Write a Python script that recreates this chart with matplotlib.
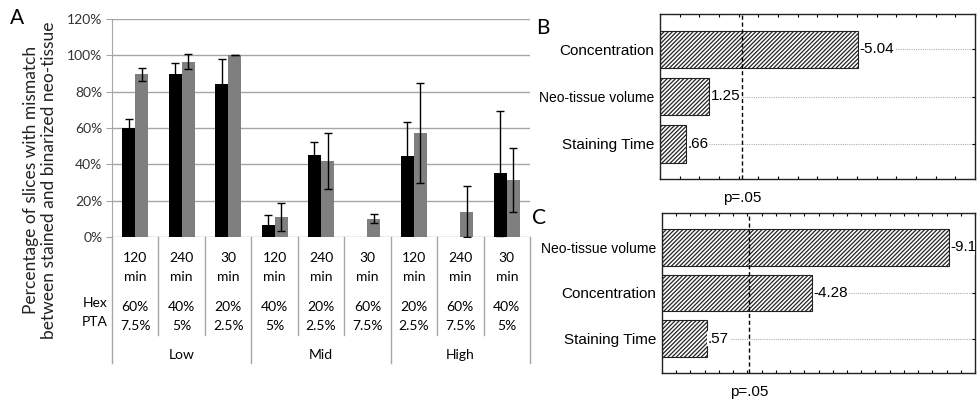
import matplotlib
matplotlib.use('Agg')
import matplotlib.pyplot as plt
import matplotlib.transforms as mtransforms
import numpy as np

# Panel A data (percent)
times = ['120', '240', '30', '120', '240', '30', '120', '240', '30']
hex_conc = ['60%', '40%', '20%', '40%', '20%', '60%', '20%', '60%', '40%']
pta_conc = ['7.5%', '5%', '2.5%', '5%', '2.5%', '7.5%', '2.5%', '7.5%', '5%']
groups = ['Low', 'Mid', 'High']
black_vals = [60, 90, 84, 6.5, 45, 0, 44.5, 0, 35]
black_err = [5, 6, 14, 5.5, 7.5, 0, 19, 0, 34.5]
gray_vals = [89.5, 96.5, 100, 11, 42, 10, 57.5, 14, 31.5]
gray_err = [3.5, 4.2, 0, 7.5, 15.5, 2.5, 27.5, 14, 17.5]

# Panels B and C: standardized effects
factors_b = ['Concentration', 'Neo-tissue volume', 'Staining Time']
effects_b = [-5.04, 1.25, 0.66]
factors_c = ['Neo-tissue volume', 'Concentration', 'Staining Time']
effects_c = [-9.1, -4.28, 0.57]
p05_b = 2.08
p05_c = 2.05

fig = plt.figure(figsize=(9.78, 4.0), dpi=100)
calibri = ['Lato', 'DejaVu Sans']
arial = ['Liberation Sans', 'DejaVu Sans']
plt.rcParams['hatch.linewidth'] = 0.9

# ---------------- Panel A ----------------
ax = fig.add_axes([112 / 978, 1 - 237 / 400, (530 - 112) / 978, 218 / 400])
x = np.arange(len(times))
w = 0.28
ax.bar(x - w / 2, black_vals, w, color='black', zorder=3)
ax.bar(x + w / 2, gray_vals, w, color='#7f7f7f', zorder=3)
for xs, vals, errs in [(x - w / 2, black_vals, black_err), (x + w / 2, gray_vals, gray_err)]:
    keep = [i for i in range(len(vals)) if vals[i] > 0]
    ax.errorbar(xs[keep], np.array(vals)[keep], yerr=np.array(errs)[keep], fmt='none',
                ecolor='black', elinewidth=1, capsize=3, capthick=1, zorder=4)
ax.set_xlim(-0.5, len(times) - 0.5)
ax.set_ylim(0, 120)
ax.set_yticks(range(0, 121, 20))
ax.set_yticklabels([f'{v}%' for v in range(0, 121, 20)], family=calibri, fontsize=10, color='#333333')
ax.yaxis.grid(True, color='#a6a6a6', lw=1)
ax.set_axisbelow(True)
for s in ['top', 'right', 'bottom']:
    ax.spines[s].set_visible(False)
ax.spines['left'].set_color('#a6a6a6')
ax.tick_params(axis='y', color='#a6a6a6', length=4, pad=3)
ax.set_xticks([])
fig.text(40 / 978, 1 - 180 / 400,
         'Percentage of slices with mismatch\nbetween stained and binarized neo-tissue',
         family=calibri, fontsize=12.5, rotation=90, ha='center', va='center',
         multialignment='center', linespacing=1.15, color='#222222')

# table under the chart
tr = mtransforms.blended_transform_factory(ax.transData, ax.transAxes)
def ay(p):
    return (237 - p) / 218.0
for i in range(len(times)):
    ax.text(i, ay(258), times[i], transform=tr, ha='center', va='center', family=calibri, fontsize=10)
    ax.text(i, ay(277), 'min', transform=tr, ha='center', va='center', family=calibri, fontsize=10)
    ax.text(i, ay(307), hex_conc[i], transform=tr, ha='center', va='center', family=calibri, fontsize=10)
    ax.text(i, ay(326), pta_conc[i], transform=tr, ha='center', va='center', family=calibri, fontsize=10)
ax.text(-0.6, ay(303), 'Hex', transform=tr, ha='right', va='center', family=calibri, fontsize=10)
ax.text(-0.6, ay(322), 'PTA', transform=tr, ha='right', va='center', family=calibri, fontsize=10)
for g, name in enumerate(groups):
    ax.text(3 * g + 1, ay(355), name, transform=tr, ha='center', va='center', family=calibri, fontsize=10)
for k in range(len(times) + 1):
    bottom = ay(363) if k % 3 == 0 else ay(335)
    ax.plot([k - 0.5, k - 0.5], [0, bottom], transform=tr, color='#a6a6a6', lw=1, clip_on=False)
fig.text(17 / 978, 1 - 18 / 400, 'A', family=calibri, fontsize=15, ha='center', va='center')


# ---------------- Panels B and C ----------------
def pareto(rect, factors, effects, xmax, xmin, p05, letter, letter_pos):
    a = fig.add_axes(rect)
    y = np.arange(len(factors))
    vals = [abs(v) for v in effects]
    for yi in y:
        a.axhline(yi, color='#b0b0b0', lw=0.8, ls=(0, (1, 1)), zorder=1)
    a.barh(y, [v - xmin for v in vals], left=xmin, height=0.8, color='white',
           edgecolor='#222222', hatch='////////', lw=0.8, zorder=2)
    a.axvline(p05, color='black', lw=1, ls=(0, (3, 2)), zorder=4)
    for yi, v, e in zip(y, vals, effects):
        s = ('%.2f' % e).rstrip('0')
        s = s.replace('-0.', '-.') if s.startswith('-0.') else (s[1:] if s.startswith('0.') else s)
        a.annotate(s, (v, yi), xytext=(1, 0), textcoords='offset points', ha='left', va='center',
                   family=arial, fontsize=11, zorder=3, annotation_clip=False, clip_on=True,
                   bbox=dict(facecolor='white', edgecolor='none', pad=0.5))
    a.set_xlim(xmin, xmax)
    a.set_ylim(len(factors) - 0.25, -0.75)
    a.set_yticks(y)
    a.set_yticklabels(factors, family=arial)
    for lab, f in zip(a.get_yticklabels(), factors):
        lab.set_fontsize(10 if f == 'Neo-tissue volume' else 11)
    a.set_xticks(np.arange(np.ceil(xmin), xmax + 0.01, 1.0))
    a.set_xticklabels([])
    a.set_xticks(np.arange(xmin, xmax + 0.01, 0.5), minor=True)
    a.tick_params(axis='x', which='both', direction='in', top=True, bottom=True, length=2.5, width=0.8)
    a.tick_params(axis='y', which='both', direction='in', left=False, right=True, length=2.5, width=0.8, pad=4)
    for s in a.spines.values():
        s.set_color('#222222')
        s.set_linewidth(1.0)
    a.annotate('p=.05', (p05, 0), xytext=(0, -14), textcoords='offset points',
               xycoords=('data', 'axes fraction'), ha='center', va='center', family=arial, fontsize=11)
    fig.text(letter_pos[0] / 978, 1 - letter_pos[1] / 400, letter, family=calibri, fontsize=15,
             ha='center', va='center')
    return a


pareto([660 / 978, 1 - 179 / 400, (975 - 660) / 978, 165 / 400], factors_b, effects_b,
       8.0, 0.0, p05_b, 'B', (543, 28))
pareto([662 / 978, 1 - 373 / 400, (975 - 662) / 978, 160 / 400], factors_c, effects_c,
       10.0, -1.0, p05_c, 'C', (539, 218))

fig.savefig('out.png', dpi=100)
